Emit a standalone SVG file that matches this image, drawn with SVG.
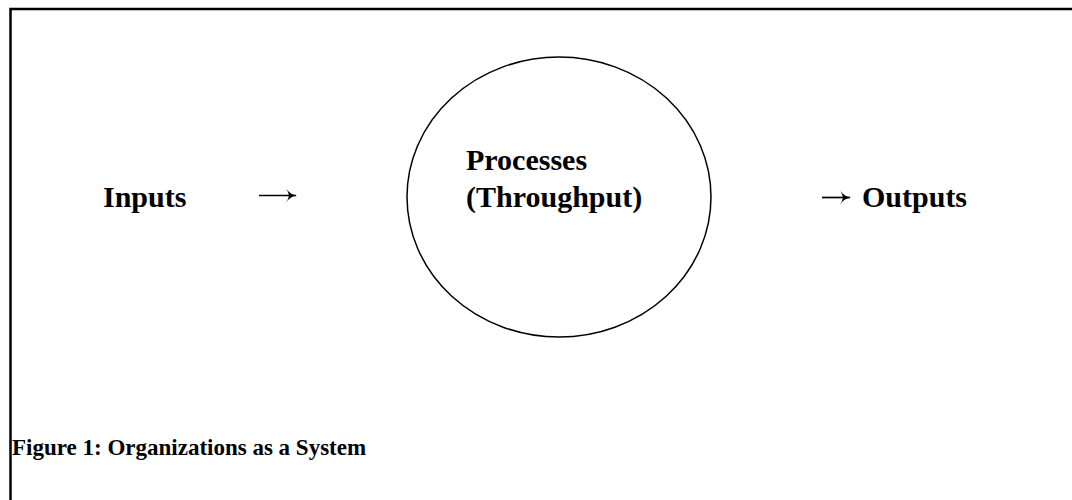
<svg xmlns="http://www.w3.org/2000/svg" width="1072" height="500" viewBox="0 0 1072 500">
<style>
.t{font-family:"Liberation Serif","Times New Roman",serif;font-weight:bold;fill:#000}
.big{font-size:30px}
.cap{font-size:23px}
.frame{fill:none;stroke:#000;stroke-width:2.5}
.arr{fill:none;stroke:#000;stroke-width:1.7}
.head{fill:#000;stroke:none}
</style>
<defs>
<marker id="ah" viewBox="0 0 11 14" refX="10" refY="7" markerWidth="11" markerHeight="14" markerUnits="userSpaceOnUse" orient="auto">
<path class="head" d="M0,0 Q4,6 11,7 Q4,8 0,14 Q2.5,10.5 3,7 Q2.5,3.5 0,0 Z"/>
</marker>
</defs>
<rect width="1072" height="500" fill="#fff"/>
<path class="frame" d="M10.5,500 V9 H1072"/>
<g id="inputs"><text class="t big" x="103" y="207">Inputs</text></g>
<g id="process">
<ellipse cx="559" cy="197" rx="152" ry="140" fill="none" stroke="#000" stroke-width="1.5"/>
<text class="t big" x="466" y="170">Processes</text>
<text class="t big" x="466" y="207">(Throughput)</text>
</g>
<g id="outputs"><text class="t big" x="862" y="207">Outputs</text></g>
<g id="connectors">
<path class="arr" d="M259,195.5 H296" marker-end="url(#ah)"/>
<path class="arr" d="M822,197.5 H850" marker-end="url(#ah)"/>
</g>
<g id="caption"><text class="t cap" x="12" y="455">Figure 1: Organizations as a System</text></g>
</svg>
